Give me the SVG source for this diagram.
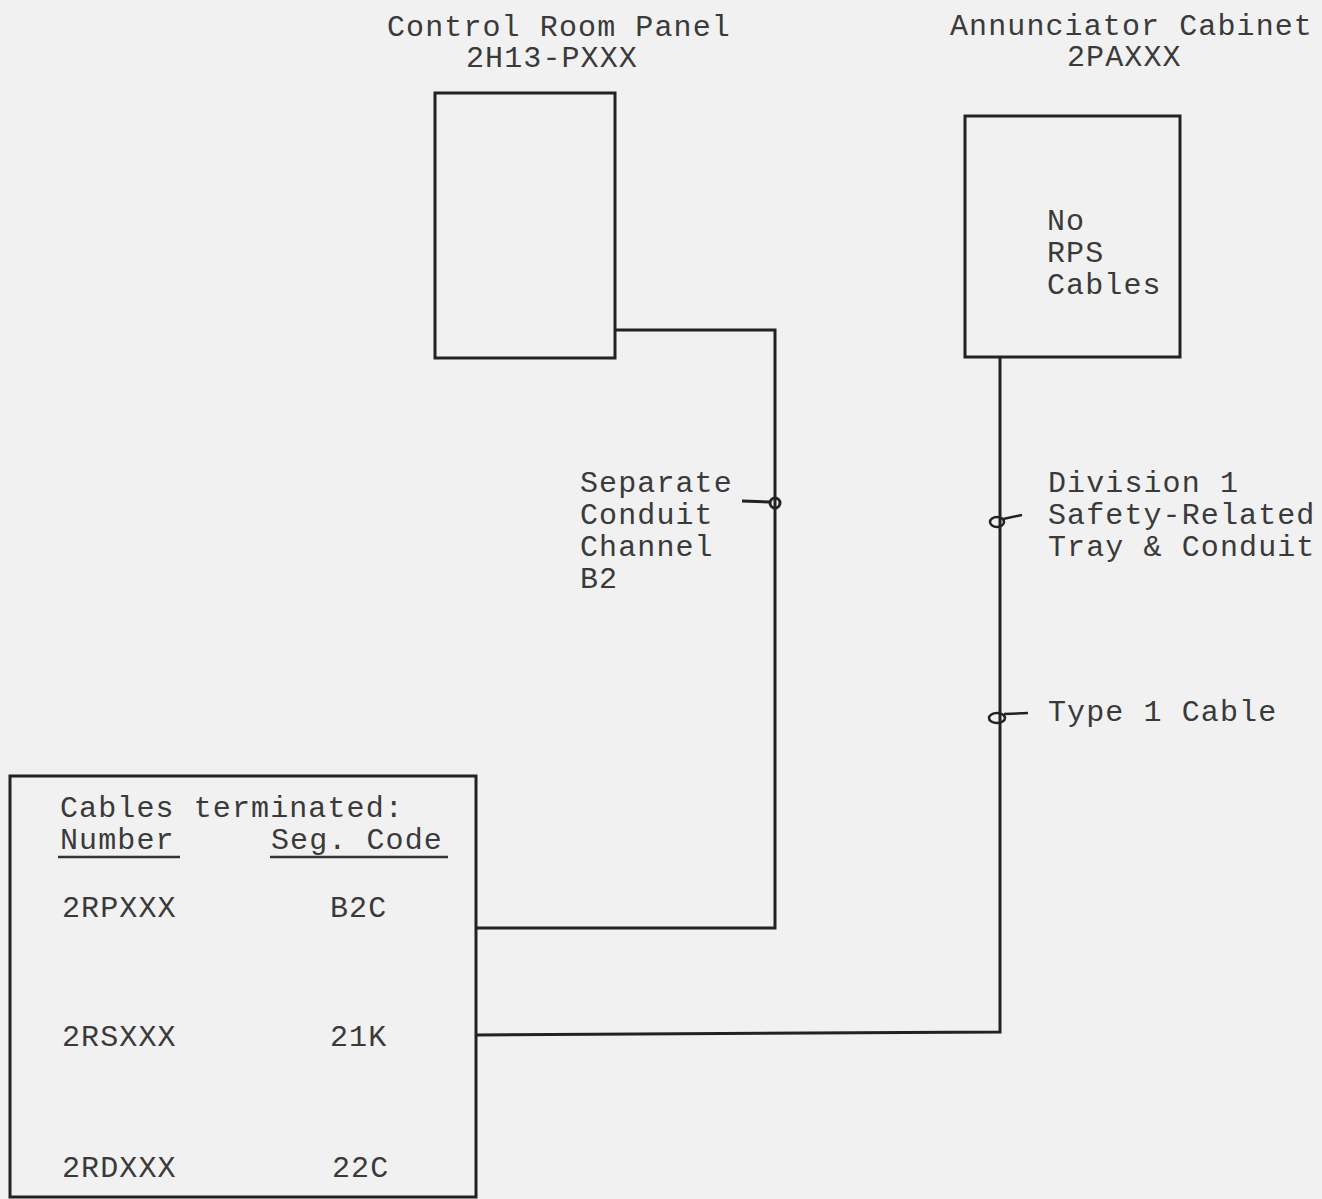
<svg xmlns="http://www.w3.org/2000/svg" width="1322" height="1199" viewBox="0 0 1322 1199">
<style>
text{font-family:"Liberation Mono","Courier New",monospace;font-size:30px;letter-spacing:1.1px;fill:#3a3a3a}
.box{fill:none;stroke:#222;stroke-width:3}
.wire{fill:none;stroke:#222;stroke-width:3}
.sym{fill:none;stroke:#222;stroke-width:2.5}
.ul{stroke:#333;stroke-width:2.5}
</style>
<rect width="1322" height="1199" fill="#f1f1f1"/>
<g id="control-room-panel">
<text x="387" y="36">Control Room Panel</text>
<text x="466" y="67">2H13-PXXX</text>
<rect class="box" x="435" y="93" width="180" height="265"/>
</g>
<g id="annunciator-cabinet">
<text x="950" y="35">Annunciator Cabinet</text>
<text x="1067" y="66">2PAXXX</text>
<rect class="box" x="965" y="116" width="215" height="241"/>
<text x="1047" y="230">No</text>
<text x="1047" y="262">RPS</text>
<text x="1047" y="294">Cables</text>
</g>
<g id="cables-terminated">
<rect class="box" x="10" y="776" width="466" height="421"/>
<text x="60" y="817">Cables terminated:</text>
<text x="60" y="849">Number</text>
<line class="ul" x1="58" y1="857" x2="180" y2="857"/>
<text x="271" y="849">Seg. Code</text>
<line class="ul" x1="270" y1="857" x2="448" y2="857"/>
<text x="62" y="917">2RPXXX</text>
<text x="330" y="917">B2C</text>
<text x="62" y="1046">2RSXXX</text>
<text x="330" y="1046">21K</text>
<text x="62" y="1177">2RDXXX</text>
<text x="332" y="1177">22C</text>
</g>
<g id="connectors">
<polyline class="wire" points="615,330 775,330 775,928 477,928"/>
<polyline class="wire" points="1000,357 1000,1032 477,1035"/>
</g>
<g id="label-separate-conduit">
<text x="580" y="492">Separate</text>
<text x="580" y="524">Conduit</text>
<text x="580" y="556">Channel</text>
<text x="580" y="588">B2</text>
<line class="wire" x1="742" y1="501" x2="770" y2="502"/>
<circle cx="775" cy="503" r="5" fill="none" stroke="#222" stroke-width="3"/>
</g>
<g id="label-division">
<text x="1048" y="492">Division 1</text>
<text x="1048" y="524">Safety-Related</text>
<text x="1048" y="556">Tray &amp; Conduit</text>
<ellipse class="sym" cx="997" cy="522" rx="7" ry="5"/>
<line class="sym" x1="1003" y1="519" x2="1022" y2="515"/>
</g>
<g id="label-type1">
<text x="1048" y="721">Type 1 Cable</text>
<ellipse class="sym" cx="997" cy="718" rx="8" ry="5"/>
<line class="sym" x1="1004" y1="714" x2="1028" y2="713"/>
</g>
</svg>
